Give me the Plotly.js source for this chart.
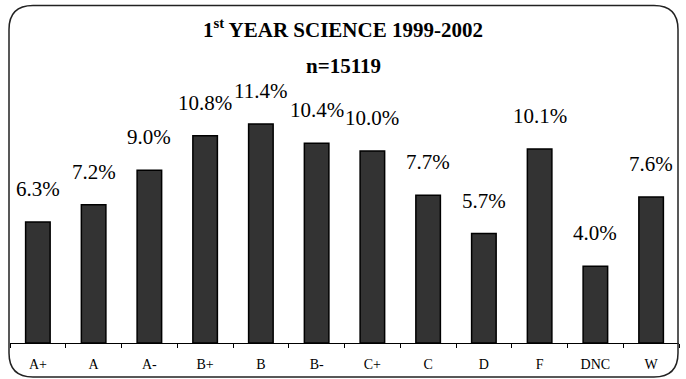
<!DOCTYPE html>
<html>
<head>
<meta charset="utf-8">
<script src="https://cdn.plot.ly/plotly-3.0.1.min.js"></script>
<style>
  html, body { margin: 0; padding: 0; background: #ffffff; }
  #chart { width: 686px; height: 379px; }
</style>
</head>
<body>
<div id="chart"></div>
<script>
// ---- data ----
const grades = ["A+", "A", "A-", "B+", "B", "B-", "C+", "C", "D", "F", "DNC", "W"];
const percents = [6.3, 7.2, 9.0, 10.8, 11.4, 10.4, 10.0, 7.7, 5.7, 10.1, 4.0, 7.6];
const chartTitle = "1<sup>st</sup> YEAR SCIENCE 1999-2002";
const chartSubtitle = "n=15119";

// ---- layout geometry ----
const W = 686, H = 379;
const mL = 10, mR = 7, mT = 100, mB = 36;
const plotW = W - mL - mR, plotH = H - mT - mB;
const pxPerUnit = 19.2;
const yMax = plotH / pxPerUnit;

const px2x = p => (p - mL) / plotW;
const px2y = p => (H - mB - p) / plotH;

// rounded border path (pixel -> paper)
const bx0 = 9, bx1 = 678, by0 = 5.5, by1 = 377, r = 24;
function P(x, y) { return px2x(x).toFixed(5) + "," + px2y(y).toFixed(5); }
const borderPath =
  "M" + P(bx0 + r, by0) +
  " L" + P(bx1 - r, by0) +
  " Q" + P(bx1, by0) + " " + P(bx1, by0 + r) +
  " L" + P(bx1, by1 - r) +
  " Q" + P(bx1, by1) + " " + P(bx1 - r, by1) +
  " L" + P(bx0 + r, by1) +
  " Q" + P(bx0, by1) + " " + P(bx0, by1 - r) +
  " L" + P(bx0, by0 + r) +
  " Q" + P(bx0, by0) + " " + P(bx0 + r, by0) + " Z";

const serif = "'Liberation Serif', 'Times New Roman', serif";

const valueLabels = grades.map((g, i) => ({
  x: g, y: percents[i], xref: "x", yref: "y",
  text: percents[i].toFixed(1) + "%",
  showarrow: false, yanchor: "bottom", xanchor: "center",
  yshift: 19,
  font: { family: serif, size: 21, color: "#000000" }
}));

const trace = {
  type: "bar",
  x: grades,
  y: percents,
  marker: { color: "#333333", line: { color: "#000000", width: 1.5 } },
  hoverinfo: "none"
};

const layout = {
  width: W, height: H,
  margin: { l: mL, r: mR, t: mT, b: mB, pad: 0 },
  paper_bgcolor: "#ffffff",
  plot_bgcolor: "#ffffff",
  showlegend: false,
  bargap: 0.56,
  xaxis: {
    type: "category",
    showline: true, linecolor: "#000000", linewidth: 1,
    ticks: "outside", tickson: "boundaries", ticklen: 4, tickcolor: "#000000", tickwidth: 1,
    ticklabelstandoff: 8,
    showgrid: false, zeroline: false,
    tickfont: { family: serif, size: 14, color: "#000000" },
    fixedrange: true
  },
  yaxis: {
    range: [0, yMax], visible: false, showgrid: false, zeroline: false, fixedrange: true
  },
  annotations: valueLabels.concat([
    {
      xref: "paper", yref: "paper", x: px2x(343), y: px2y(44),
      xanchor: "center", yanchor: "bottom", showarrow: false,
      text: "<b>" + chartTitle + "</b>",
      font: { family: serif, size: 21, color: "#000000" }
    },
    {
      xref: "paper", yref: "paper", x: px2x(343), y: px2y(80),
      xanchor: "center", yanchor: "bottom", showarrow: false,
      text: "<b>" + chartSubtitle + "</b>",
      font: { family: serif, size: 21, color: "#000000" }
    }
  ]),
  shapes: [{
    type: "path", xref: "paper", yref: "paper", path: borderPath,
    line: { color: "#222222", width: 1.5 }, layer: "above"
  }]
};

Plotly.newPlot("chart", [trace], layout, { displayModeBar: false, staticPlot: true });
</script>
</body>
</html>
